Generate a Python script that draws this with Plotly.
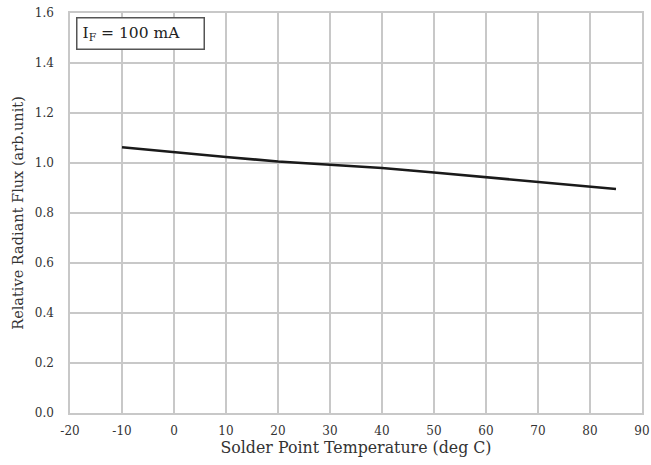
import plotly.graph_objects as go

temps = [-10, 0, 10, 20, 30, 40, 50, 60, 70, 80, 85]
flux = [1.063, 1.042, 1.024, 1.006, 0.993, 0.980, 0.962, 0.944, 0.925, 0.907, 0.896]
x_ticks = list(range(-20, 91, 10))
y_ticks = [0.0, 0.2, 0.4, 0.6, 0.8, 1.0, 1.2, 1.4, 1.6]

font_family = "DejaVu Serif"
grid = "#c8c8c8"

fig = go.Figure()
fig.add_trace(go.Scatter(x=temps, y=flux, mode="lines",
                         line=dict(color="#1a1a1a", width=2.6), showlegend=False))

fig.update_layout(
    width=651, height=465,
    margin=dict(l=70, r=9, t=13, b=52, autoexpand=False),
    paper_bgcolor="white", plot_bgcolor="white",
    font=dict(family=font_family, color="#333333", size=12),
    xaxis=dict(range=[-20, 90], tickmode="array", tickvals=x_ticks,
               ticktext=[str(v) for v in x_ticks], automargin=False,
               ticklabeloverflow="allow",
               showgrid=True, gridcolor=grid, gridwidth=1.5,
               showline=True, linecolor=grid, linewidth=1.5, mirror=True,
               zeroline=False, ticks="", tickfont=dict(size=12), ticklabelstandoff=6,
               title=dict(text="Solder Point Temperature (deg C)", font=dict(size=15.8), standoff=4)),
    yaxis=dict(range=[0, 1.6], tickmode="array", tickvals=y_ticks,
               ticktext=[f"{v:.1f}" for v in y_ticks], automargin=False,
               showgrid=True, gridcolor=grid, gridwidth=1.5,
               showline=True, linecolor=grid, linewidth=1.5, mirror=True,
               zeroline=False, ticks="", tickfont=dict(size=12), ticklabelstandoff=12,
               title=dict(text="Relative Radiant Flux (arb.unit)", font=dict(size=14.5), standoff=8)),
)

fig.add_annotation(
    xref="paper", yref="paper", x=0.0105, y=0.99, xanchor="left", yanchor="top",
    text="I<sub>F</sub> = 100 mA", showarrow=False,
    font=dict(family=font_family, size=15.5, color="#222222"),
    bordercolor="#555555", borderwidth=1.5, borderpad=5, bgcolor="white",
    width=116, align="left",
)

fig.write_html("out.html", config={"displayModeBar": False},
               post_script="document.body.style.margin='0';")
